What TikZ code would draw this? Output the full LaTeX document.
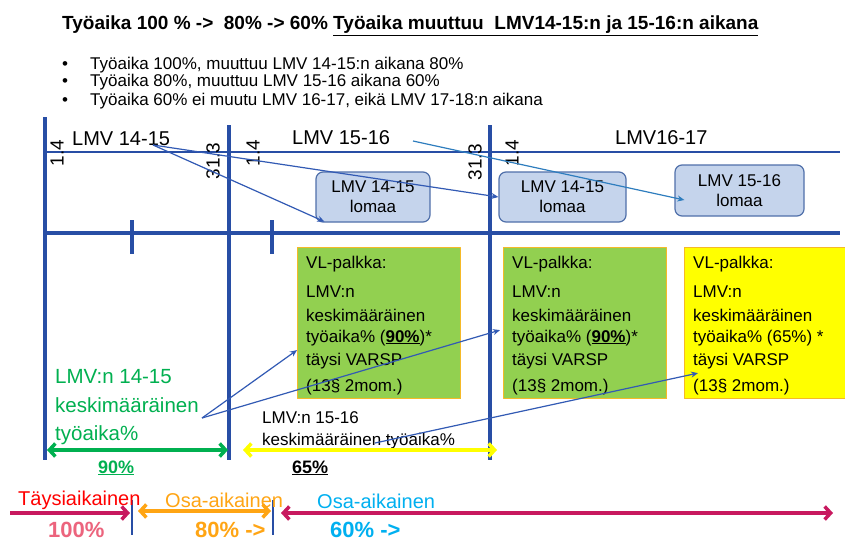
\documentclass[tikz,border=0pt]{standalone}
\usepackage{fontspec}
\setmainfont{Liberation Sans}
\usetikzlibrary{arrows.meta}
\definecolor{axisblue}{RGB}{40,78,165}
\definecolor{linkblue}{RGB}{50,90,180}
\definecolor{skyline}{RGB}{46,125,190}
\definecolor{lomafill}{RGB}{197,212,236}
\definecolor{lomaedge}{RGB}{80,112,170}
\definecolor{vlgreen}{RGB}{146,208,80}
\definecolor{vlyellow}{RGB}{255,255,0}
\definecolor{vledge}{RGB}{245,185,40}
\definecolor{ltgreen}{RGB}{0,176,80}
\definecolor{crimson}{RGB}{200,25,95}
\definecolor{pinkish}{RGB}{236,100,125}
\definecolor{orangeish}{RGB}{255,165,20}
\definecolor{cyanish}{RGB}{0,176,240}
\newcommand\fsz[2]{\fontsize{#1}{#2}\selectfont}
\begin{document}
\begin{tikzpicture}[x=1pt,y=-1pt,line join=round,
	axis/.style={axisblue,line width=3.2pt},
	link/.style={linkblue,line width=1.2pt,-{Stealth[length=7pt,width=6pt]}},
	loma/.style={draw=lomaedge,fill=lomafill,line width=1.2pt,rounded corners=7pt,align=center,inner sep=0pt,font=\fsz{17}{20}},
	vlbox/.style={draw=vledge,line width=1.2pt,minimum width=163pt,minimum height=151pt,anchor=north west,inner sep=0pt},
	txt/.style={anchor=base west,inner sep=0pt},
	barb/.style={line width=3.5pt,{Straight Barb[length=6pt,width=13pt]}-{Straight Barb[length=6pt,width=13pt]}}]
	\fill[white] (0,0) rectangle (845,543);
	\useasboundingbox (0,0) rectangle (845,543);
	% otsikko ja luettelo
	\node[txt,font=\bfseries\fsz{19}{19}] (T) at (62,30) {Työaika 100 \% ->\ \ 80\% -> 60\% \underline{Työaika muuttuu\ \ LMV14-15:n ja 15-16:n aikana}};
	\foreach \t/\y in {{Työaika 100\%, muuttuu LMV 14-15:n aikana 80\%}/69,{Työaika 80\%, muuttuu LMV 15-16 aikana 60\%}/86,{Työaika 60\% ei muutu LMV 16-17, eikä LMV 17-18:n aikana}/105}
	{\node[txt,font=\fsz{17}{17}] at (62,\y) {\textbullet}; \node[txt,font=\fsz{17}{17}] at (90,\y) {\t};}
	% aikajana
	\draw[axis] (45,117) -- (45,460);
	\draw[axis] (229,125) -- (229,460);
	\draw[axis] (490,125) -- (490,460);
	\draw[axisblue,line width=1.8pt] (45,152) -- (840,152);
	\draw[axis,line width=4pt] (45,233) -- (840,233);
	\foreach \x in {132,272} \draw[axis] (\x,220) -- (\x,254);
	\foreach \x/\y/\t in {57/153/1.4,213/161/31.3,253/153/1.4,475/162/31.3,512/153/1.4}
	\node[rotate=90,inner sep=0pt,font=\fsz{19}{19}] at (\x,\y) {\t};
	\node[txt,font=\fsz{20}{20}] (H1) at (72,145) {LMV 14-15};
	\node[txt,font=\fsz{20}{20}] (H2) at (292,144) {LMV 15-16};
	\node[txt,font=\fsz{20}{20}] (H3) at (615,144) {LMV16-17};
	% lomat
	\node[loma,minimum width=114pt,minimum height=50pt] (L1) at (373,197) {LMV 14-15\\lomaa};
	\node[loma,minimum width=127pt,minimum height=50pt] (L2) at (562.5,197) {LMV 14-15\\lomaa};
	\node[loma,minimum width=129pt,minimum height=51pt] (L3) at (739.5,190.5) {LMV 15-16\\lomaa};
	% VL-palkka
	\foreach \n/\x/\c/\p in {V1/297/vlgreen/{(\underline{\textbf{90\%}})*},V2/503/vlgreen/{(\underline{\textbf{90\%}})*},V3/684/vlyellow/{(65\%) *}}{
		\node[vlbox,fill=\c] (\n) at (\x,247) {};
		\foreach \t/\y in {VL-palkka:/268,LMV:n/297,keskimääräinen/321,{työaika\% \p}/342,täysi VARSP/365,{(13§ 2mom.)}/391}
		\node[txt,font=\fsz{17}{17}] at (\x+9,\y) {\t};
	}
	% keskimääräiset
	\foreach \t/\y in {LMV:n 14-15/383,keskimääräinen/412,työaika\%/440}
	\node[txt,ltgreen,font=\fsz{20.5}{20.5}] at (55,\y) {\t};
	\node[txt,font=\fsz{17}{17}] (K1) at (262,423) {LMV:n 15-16};
	\node[txt,font=\fsz{17}{17}] (K2) at (262,445) {keskimääräinen työaika\%};
	\draw[barb,ltgreen] (47,450) -- (228,450);
	\draw[barb,vlyellow] (243,450) -- (497,450);
	\node[txt,ltgreen,font=\bfseries\fsz{18}{18}] (P90) at (98,473) {\underline{90\%}};
	\node[txt,font=\bfseries\fsz{18}{18}] (P65) at (292,473) {\underline{65\%}};
	% nuolet
	\path (153,145) coordinate (S1) (413,141) coordinate (S2) (202,418) coordinate (S3) (375,443) coordinate (S4);
	\draw[link] (S1) -- ([xshift=9pt,yshift=1pt]L1.south west);
	\draw[link] (S1) -- (L2.west);
	\draw[link,skyline] (S2) -- ([xshift=10pt,yshift=-9.5pt]L3.west);
	\draw[link] (S3) -- ([yshift=-27pt]V1.west);
	\draw[link] (S3) -- ([xshift=-3pt,yshift=-7pt]V2.west);
	\draw[link] (S4) -- ([xshift=14pt,yshift=-50pt]V3.west);
	% alarivi
	\draw[crimson,line width=3.5pt,-{Straight Barb[length=6pt,width=13pt]}] (10,513) -- (130,513);
	\draw[barb,orangeish] (138,511) -- (271,511);
	\draw[barb,crimson] (281,513) -- (833,513);
	\foreach \x in {132,273} \draw[axisblue,line width=2.5pt] (\x,500) -- (\x,535);
	\node[txt,red,font=\fsz{20}{20}] (A1) at (18,505) {Täysiaikainen};
	\node[txt,orangeish,font=\fsz{20}{20}] (A2) at (165,507) {Osa-aikainen};
	\node[txt,cyanish,font=\fsz{20}{20}] (A3) at (317,508) {Osa-aikainen};
	\node[txt,pinkish,font=\bfseries\fsz{22}{22}] (B1) at (48,537) {100\%};
	\node[txt,orangeish,font=\bfseries\fsz{22}{22}] (B2) at (195,537) {80\% ->};
	\node[txt,cyanish,font=\bfseries\fsz{22}{22}] (B3) at (330,537) {60\% ->};
\end{tikzpicture}
\end{document}
